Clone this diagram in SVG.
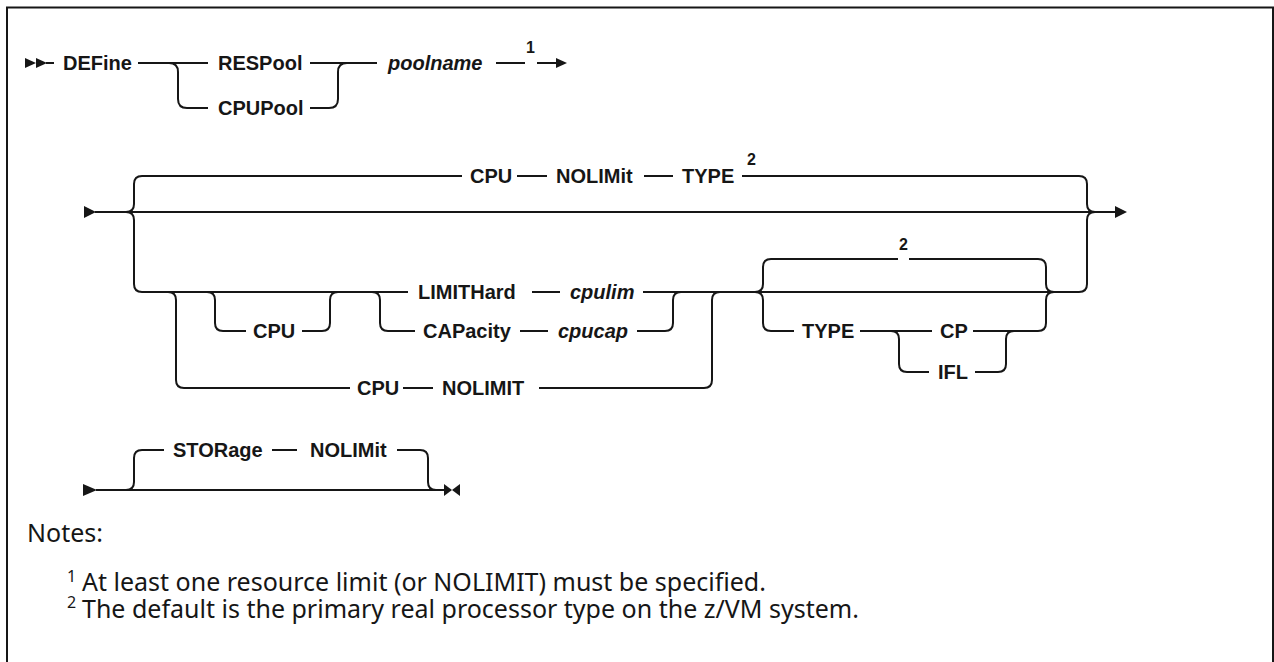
<svg xmlns="http://www.w3.org/2000/svg" width="1274" height="662" viewBox="0 0 1274 662">
<style>
.t{font-family:"Liberation Sans",Arial,sans-serif;font-size:20px;font-weight:bold;fill:#161616}
.v{font-style:italic}
.sup{font-size:16px}
.n{font-family:"Noto Sans","Liberation Sans",sans-serif;font-size:25px;font-weight:normal;fill:#161616}
.ns{font-family:"Noto Sans","Liberation Sans",sans-serif;font-size:16px;fill:#161616}
.c{fill:none;stroke:#161616;stroke-width:2}
.a{fill:#161616;stroke:none}
</style>
<rect x="7" y="7.5" width="1266" height="720" fill="#fff" stroke="#161616" stroke-width="2"/>
<g id="connectors">
<!-- row 1 -->
<polygon class="a" points="25,58 36,63 25,68"/>
<polygon class="a" points="36,58 47,63 36,68"/>
<path class="c" d="M46,63 H54"/>
<path class="c" d="M138,63 H208"/>
<path class="c" d="M169,63 q9,0 9,9 v27 q0,9 9,9 H208"/>
<path class="c" d="M310,63 H377"/>
<path class="c" d="M310,108 H329 q9,0 9,-9 v-27 q0,-9 9,-9"/>
<path class="c" d="M496,63 H525"/>
<path class="c" d="M537,63 H558"/>
<polygon class="a" points="556,58 567,63 556,68"/>
<!-- row 2 -->
<polygon class="a" points="84,206 96,212 84,218"/>
<path class="c" d="M95,212 H1116"/>
<polygon class="a" points="1115,206 1127,212 1115,218"/>
<path class="c" d="M126,212 q8,0 8,-8 v-20 q0,-8 8,-8 H462"/>
<path class="c" d="M517,176 H547"/>
<path class="c" d="M644,176 H673"/>
<path class="c" d="M742,176 H1079 q8,0 8,8 v20 q0,8 8,8"/>
<path class="c" d="M126,212 q8,0 8,8 v64 q0,8 8,8 H408"/>
<path class="c" d="M168,292 q8,0 8,8 v80 q0,8 8,8 H350"/>
<path class="c" d="M403,388 H433"/>
<path class="c" d="M539,388 H704 q8,0 8,-8 v-80 q0,-8 8,-8"/>
<path class="c" d="M207,292 q8,0 8,8 v23 q0,8 8,8 H246"/>
<path class="c" d="M302,331 H322 q8,0 8,-8 v-23 q0,-8 8,-8"/>
<path class="c" d="M372,292 q8,0 8,8 v23 q0,8 8,8 H415"/>
<path class="c" d="M520,331 H548"/>
<path class="c" d="M637,331 H665 q8,0 8,-8 v-23 q0,-8 8,-8"/>
<path class="c" d="M532,292 H560"/>
<path class="c" d="M643,292 H1079 q8,0 8,-8 v-64 q0,-8 8,-8"/>
<path class="c" d="M755,292 q8,0 8,-8 v-17 q0,-8 8,-8 H898"/>
<path class="c" d="M909,259 H1038 q8,0 8,8 v17 q0,8 8,8"/>
<path class="c" d="M755,292 q8,0 8,8 v23 q0,8 8,8 H794"/>
<path class="c" d="M860,331 H932"/>
<path class="c" d="M891,331 q8,0 8,8 v25 q0,8 8,8 H929"/>
<path class="c" d="M975,372 H998 q8,0 8,-8 v-25 q0,-8 8,-8"/>
<path class="c" d="M973,331 H1038 q8,0 8,-8 v-23 q0,-8 8,-8"/>
<!-- row 3 -->
<polygon class="a" points="83,484 97,490 83,496"/>
<path class="c" d="M96,490 H446"/>
<path class="c" d="M126,490 q8,0 8,-8 v-24 q0,-8 8,-8 H164"/>
<path class="c" d="M272,450 H297"/>
<path class="c" d="M397,450 H420 q8,0 8,8 v24 q0,8 8,8"/>
<polygon class="a" points="444,484 452,490 444,496"/>
<polygon class="a" points="460,484 452,490 460,496"/>
</g>
<g id="n-define"><text class="t" x="63" y="70">DEFine</text></g>
<g id="n-respool"><text class="t" x="218" y="70">RESPool</text></g>
<g id="n-cpupool"><text class="t" x="218" y="115">CPUPool</text></g>
<g id="n-poolname"><text class="t v" x="388" y="70">poolname</text></g>
<g id="n-sup1"><text class="t sup" x="526" y="53">1</text></g>
<g id="n-cpu-top"><text class="t" x="470" y="183">CPU</text></g>
<g id="n-nolimit-top"><text class="t" x="556" y="183">NOLIMit</text></g>
<g id="n-type-top"><text class="t" x="682" y="183">TYPE</text></g>
<g id="n-sup2a"><text class="t sup" x="747" y="165">2</text></g>
<g id="n-cpu-opt"><text class="t" x="253" y="338">CPU</text></g>
<g id="n-limithard"><text class="t" x="418" y="299">LIMITHard</text></g>
<g id="n-cpulim"><text class="t v" x="570" y="299">cpulim</text></g>
<g id="n-capacity"><text class="t" x="423" y="338">CAPacity</text></g>
<g id="n-cpucap"><text class="t v" x="558" y="338">cpucap</text></g>
<g id="n-cpu-nolimit"><text class="t" x="357" y="395">CPU</text></g>
<g id="n-nolimit-bottom"><text class="t" x="442" y="395">NOLIMIT</text></g>
<g id="n-sup2b"><text class="t sup" x="899" y="250">2</text></g>
<g id="n-type"><text class="t" x="802" y="338">TYPE</text></g>
<g id="n-cp"><text class="t" x="940" y="338">CP</text></g>
<g id="n-ifl"><text class="t" x="938" y="379">IFL</text></g>
<g id="n-storage"><text class="t" x="173" y="457">STORage</text></g>
<g id="n-nolimit-storage"><text class="t" x="310" y="457">NOLIMit</text></g>
<g id="notes">
<text class="n" x="27" y="542">Notes:</text>
<text class="ns" x="67" y="582">1</text>
<text class="n" x="82" y="591">At least one resource limit (or NOLIMIT) must be specified.</text>
<text class="ns" x="67" y="608">2</text>
<text class="n" x="82" y="618">The default is the primary real processor type on the z/VM system.</text>
</g>
</svg>
